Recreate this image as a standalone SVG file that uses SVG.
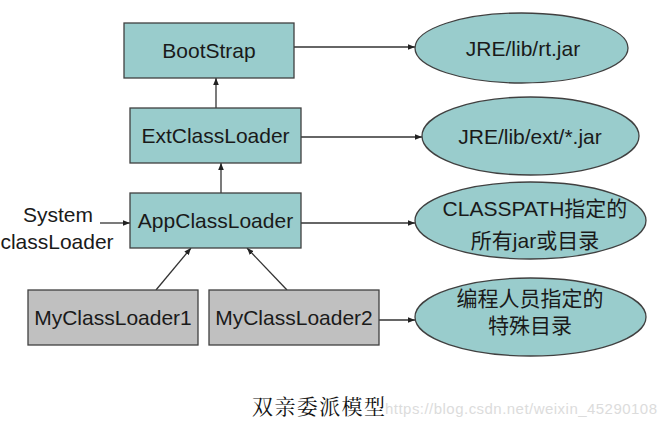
<svg xmlns="http://www.w3.org/2000/svg" width="666" height="433" viewBox="0 0 666 433">
<style>
.box{fill:#99cccc;stroke:#404040;stroke-width:1.3}
.gbox{fill:#c0c0c0;stroke:#404040;stroke-width:1.3}
.ell{fill:#99cccc;stroke:#404040;stroke-width:1.3}
.t{font-family:"Liberation Sans",Arial,"Noto Sans CJK SC",sans-serif;font-size:21px;fill:#1a1a1a;text-anchor:middle}
.c{font-family:"Liberation Sans",Arial,"Noto Sans CJK SC",sans-serif;font-size:21px;fill:#1a1a1a;text-anchor:middle}
.conn line{stroke:#333;stroke-width:1.3;marker-end:url(#ah)}
</style>
<defs>
<marker id="ah" viewBox="0 0 10 10" refX="10" refY="5" markerWidth="7" markerHeight="7" markerUnits="userSpaceOnUse" orient="auto">
<path d="M0,1 L10,5 L0,9 z" fill="#222"/>
</marker>
</defs>
<rect width="666" height="433" fill="#fff"/>
<g class="conn">
<line x1="294" y1="47" x2="415" y2="47"/>
<line x1="301" y1="137" x2="422" y2="137"/>
<line x1="301" y1="223" x2="415" y2="223"/>
<line x1="379" y1="320" x2="415" y2="320"/>
<line x1="216" y1="108" x2="216" y2="78"/>
<line x1="221" y1="193" x2="221" y2="163"/>
<line x1="156" y1="290" x2="191" y2="248"/>
<line x1="287" y1="290" x2="247" y2="248"/>
<line x1="100" y1="223" x2="130" y2="223"/>
</g>
<g id="bootstrap"><rect class="box" x="124" y="23" width="170" height="55"/><text class="t" x="209" y="58">BootStrap</text></g>
<g id="extclassloader"><rect class="box" x="130" y="108" width="171" height="55"/><text class="t" x="215.5" y="143">ExtClassLoader</text></g>
<g id="appclassloader"><rect class="box" x="130" y="193" width="171" height="55"/><text class="t" x="215.5" y="228">AppClassLoader</text></g>
<g id="myclassloader1"><rect class="gbox" x="28" y="290" width="170" height="55"/><text class="t" x="113" y="325">MyClassLoader1</text></g>
<g id="myclassloader2"><rect class="gbox" x="209" y="290" width="170" height="55"/><text class="t" x="294" y="325">MyClassLoader2</text></g>
<g id="systemlabel"><text class="c" x="58" y="222">System</text><text class="c" x="57" y="249">classLoader</text></g>
<g id="rtjar"><ellipse class="ell" cx="521.5" cy="48" rx="106.5" ry="35"/><text class="t" x="523" y="56">JRE/lib/rt.jar</text></g>
<g id="extjar"><ellipse class="ell" cx="530.5" cy="136" rx="108.5" ry="39"/><text class="t" x="530" y="144">JRE/lib/ext/*.jar</text></g>
<g id="classpath"><ellipse class="ell" cx="530.5" cy="220.5" rx="115.5" ry="38.5"/><text class="c" x="535" y="216">CLASSPATH指定的</text><text class="c" x="535" y="248">所有jar或目录</text></g>
<g id="custom"><ellipse class="ell" cx="530.5" cy="317" rx="115.5" ry="39"/><text class="c" x="530" y="306">编程人员指定的</text><text class="c" x="530" y="333">特殊目录</text></g>
<text x="252" y="414" font-family="'Noto Serif CJK SC','Noto Sans CJK SC',serif" font-size="21" fill="#111" textLength="133">双亲委派模型</text>
<text x="385" y="414" font-family="'Liberation Sans',Arial,sans-serif" font-size="15" fill="#dcdcdc" textLength="272">https://blog.csdn.net/weixin_45290108</text>
</svg>
